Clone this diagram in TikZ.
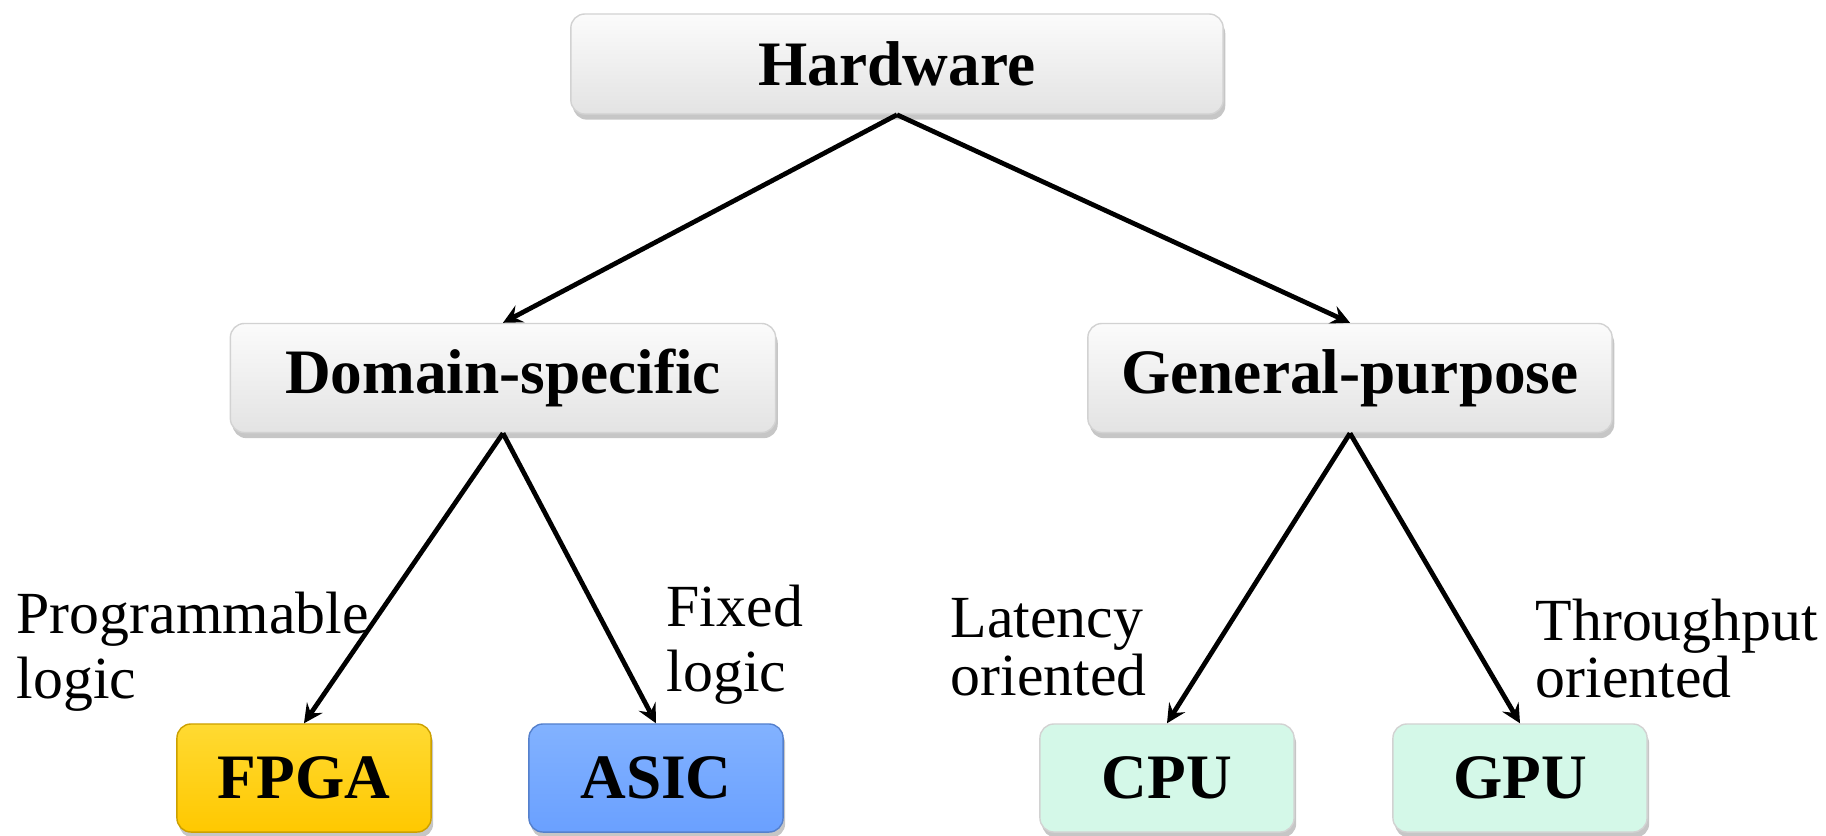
\documentclass[tikz,border=0pt]{standalone}
\usepackage{fontspec}
\setmainfont{Liberation Serif}
\usetikzlibrary{shadows}

\definecolor{fpgaTop}{RGB}{255,218,50}
\definecolor{fpgaBot}{RGB}{255,200,0}
\definecolor{asicTop}{RGB}{130,178,255}
\definecolor{asicBot}{RGB}{106,160,255}
\definecolor{cpuFill}{RGB}{212,248,232}

\begin{document}
\begin{tikzpicture}[x=0.01cm, y=-0.01cm, >=stealth,
    box/.style={rounded corners=4pt, draw=gray!35, thin, align=center,
        font=\fontsize{18}{21}\selectfont\bfseries,
        drop shadow={opacity=0.45, shadow xshift=0.6pt, shadow yshift=-1.6pt}},
    greybox/.style={box, top color=gray!3, bottom color=gray!22},
    leaf/.style={box, minimum width=2.54cm, minimum height=1.08cm},
    note/.style={align=left, inner sep=0pt, anchor=north west,
        font=\fontsize{17}{18.5}\selectfont},
    tightnote/.style={note, font=\fontsize{17}{16.4}\selectfont},
    link/.style={->, line width=1.35pt}]

    \useasboundingbox (0,0) rectangle (1826,835);

    % top level
    \node[greybox, minimum width=6.52cm, minimum height=1.0cm] (hw) at (897,64) {Hardware};

    % second level
    \node[greybox, minimum width=5.45cm, minimum height=1.09cm] (ds) at (503,378) {Domain-specific};
    \node[greybox, minimum width=5.24cm, minimum height=1.09cm] (gp) at (1350,378) {General-purpose};

    % leaves
    \node[leaf, draw=fpgaBot!80!black, top color=fpgaTop, bottom color=fpgaBot] (fpga) at (304,778) {FPGA};
    \node[leaf, draw=asicBot!80!black, top color=asicTop, bottom color=asicBot] (asic) at (656,778) {ASIC};
    \node[leaf, fill=cpuFill] (cpu) at (1167,778) {CPU};
    \node[leaf, fill=cpuFill] (gpu) at (1520,778) {GPU};

    \draw[link] (hw.south) -- (ds.north);
    \draw[link] (hw.south) -- (gp.north);
    \draw[link] (ds.south) -- (fpga.north);
    \draw[link] (ds.south) -- (asic.north);
    \draw[link] (gp.south) -- (cpu.north);
    \draw[link] (gp.south) -- (gpu.north);

    \node[note] (prog) at (16,591) {Programmable\\logic};
    \node[note] (fixed) at (666,584) {Fixed\\logic};
    \node[tightnote] (lat) at (950,598) {Latency\\oriented};
    \node[tightnote] (thr) at (1535,598) {Throughput\\oriented};
\end{tikzpicture}
\end{document}
